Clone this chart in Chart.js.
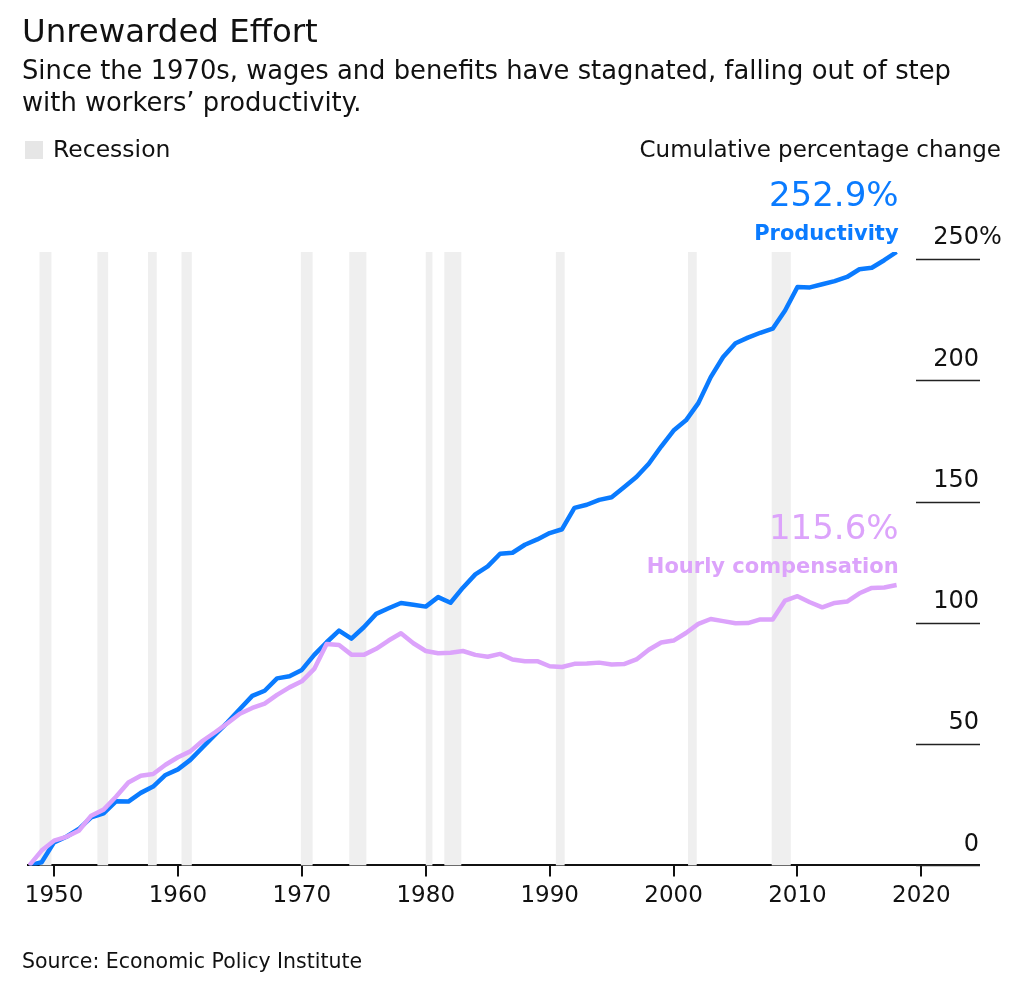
<!DOCTYPE html>
<html>
<head>
<meta charset="utf-8">
<script src="https://cdn.jsdelivr.net/npm/chart.js@4.4.1/dist/chart.umd.min.js"></script>
<style>
html, body { margin: 0; padding: 0; background: #fff; }
body { width: 1024px; height: 990px; position: relative; overflow: hidden;
       font-family: "DejaVu Sans", sans-serif; color: #111; }
#wrap { position: absolute; left: 0; top: 0; width: 1024px; height: 990px; }
.t { position: absolute; white-space: nowrap; }
#title { left: 22px; top: 11.5px; font-size: 32.4px; line-height: 38px; }
#sub { left: 22px; top: 55px; font-size: 25.8px; line-height: 31.7px; }
#legend { left: 25px; top: 135px; font-size: 23.5px; line-height: 28px; }
#legend .sw { display: inline-block; width: 18px; height: 18px; background: #e6e6e6;
              vertical-align: -2px; margin-right: 10px; }
#unit { right: 23px; top: 135px; font-size: 23px; line-height: 28px; }
#source { left: 22px; top: 948px; font-size: 20.5px; line-height: 26px; }
</style>
</head>
<body>
<div id="wrap"><canvas id="chart"></canvas></div>
<div class="t" id="title">Unrewarded Effort</div>
<div class="t" id="sub">Since the 1970s, wages and benefits have stagnated, falling out of step<br>with workers’ productivity.</div>
<div class="t" id="legend"><span class="sw"></span>Recession</div>
<div class="t" id="unit">Cumulative percentage change</div>
<div class="t" id="source">Source: Economic Policy Institute</div>

<script>
var years = [1948,1949,1950,1951,1952,1953,1954,1955,1956,1957,1958,1959,
	1960,1961,1962,1963,1964,1965,1966,1967,1968,1969,
	1970,1971,1972,1973,1974,1975,1976,1977,1978,1979,
	1980,1981,1982,1983,1984,1985,1986,1987,1988,1989,
	1990,1991,1992,1993,1994,1995,1996,1997,1998,1999,
	2000,2001,2002,2003,2004,2005,2006,2007,2008,2009,
	2010,2011,2012,2013,2014,2015,2016,2017,2018];

var productivity = [0,1.3,9.5,11.8,15.0,19.8,21.5,26.4,26.3,29.9,32.5,37.3,
	39.6,43.5,48.7,53.9,59.0,64.5,69.9,72.0,77.1,78.0,
	80.6,86.8,92.0,96.8,93.5,98.2,103.7,106.0,108.2,107.5,
	106.7,110.6,108.3,114.5,120.0,123.3,128.5,128.9,132.2,134.4,
	137.0,138.6,147.4,148.7,150.7,151.8,155.9,160.1,165.6,172.7,
	179.3,183.5,190.6,201.3,209.6,215.3,217.6,219.6,221.3,228.8,
	238.5,238.3,239.6,240.9,242.6,245.8,246.4,249.5,252.9];

var compensation = [0,6.1,10.2,11.8,14.3,20.5,23.0,28.3,34.2,37.0,37.7,41.5,
	44.6,47.0,51.4,54.9,58.6,62.5,64.9,66.7,70.3,73.4,
	75.9,81.0,91.3,90.9,86.9,86.8,89.3,92.7,95.7,91.6,
	88.4,87.5,87.7,88.4,86.8,86.0,87.2,84.9,84.2,84.2,
	82.1,81.8,83.1,83.2,83.6,82.8,83.0,84.9,88.9,91.9,
	92.7,95.8,99.6,101.6,100.7,99.8,99.9,101.4,101.4,109.2,
	111.0,108.5,106.4,108.2,108.8,112.2,114.4,114.6,115.6];

var seriesNames = ["Hourly compensation", "Productivity"];
var seriesColors = ["#dca3fb", "#0a7bff"];

// NBER recessions, as decimal years
var recessions = [[1948.83,1949.79],[1953.5,1954.37],[1957.58,1958.29],[1960.29,1961.12],
	[1969.92,1970.87],[1973.83,1975.21],[1980.0,1980.54],[1981.5,1982.87],
	[1990.5,1991.21],[2001.17,2001.87],[2007.92,2009.46]];

var xTicks = [1950,1960,1970,1980,1990,2000,2010,2020];
var yTicks = [0,50,100,150,200,250];

var FONT = "'DejaVu Sans', sans-serif";
Chart.defaults.font.family = FONT;
Chart.defaults.color = "#111";

function toPoints(values){
	return values.map(function(v, i){ return {x: years[i], y: v}; });
}

var recessionBands = {
	id: "recessionBands",
	beforeDatasetsDraw: function(chart){
		var ctx = chart.ctx, xs = chart.scales.x, area = chart.chartArea;
		ctx.save();
		ctx.fillStyle = "#efefef";
		recessions.forEach(function(r){
			var a = xs.getPixelForValue(r[0]), b = xs.getPixelForValue(r[1]);
			ctx.fillRect(a, area.top, b - a, area.bottom - area.top);
		});
		ctx.restore();
	}
};

var shortGrid = {
	id: "shortGrid",
	afterDraw: function(chart){
		var ctx = chart.ctx, ys = chart.scales.y, area = chart.chartArea;
		ctx.save();
		ctx.strokeStyle = "#222";
		ctx.lineWidth = 1.5;
		yTicks.forEach(function(v){
			var y = Math.round(ys.getPixelForValue(v)) + 0.5;
			ctx.beginPath();
			ctx.moveTo(area.right - 63, y);
			ctx.lineTo(area.right + 1, y);
			ctx.stroke();
		});
		// percent sign hangs after the top label
		ctx.font = "24px " + FONT;
		ctx.fillStyle = "#111";
		ctx.textAlign = "left";
		ctx.textBaseline = "middle";
		ctx.fillText("%", area.right, ys.getPixelForValue(yTicks[yTicks.length - 1]) - 21);
		ctx.restore();
	}
};

var endLabels = {
	id: "endLabels",
	afterDatasetsDraw: function(chart){
		var ctx = chart.ctx;
		ctx.save();
		ctx.textAlign = "right";
		ctx.textBaseline = "alphabetic";
		chart.data.datasets.forEach(function(ds, i){
			var meta = chart.getDatasetMeta(i);
			var pt = meta.data[meta.data.length - 1];
			var last = ds.data[ds.data.length - 1].y;
			ctx.fillStyle = ds.borderColor;
			ctx.font = "bold 21px " + FONT;
			ctx.fillText(ds.label, pt.x + 2, pt.y - 12);
			ctx.font = "34px " + FONT;
			ctx.fillText(last.toFixed(1) + "%", pt.x + 2, pt.y - 46);
		});
		ctx.restore();
	}
};

var ctx = document.getElementById("chart");
new Chart(ctx, {
	type: "line",
	data: {
		datasets: [
		{
			label: seriesNames[0],
			data: toPoints(compensation),
			borderColor: seriesColors[0],
			borderWidth: 4.5,
			pointRadius: 0,
			tension: 0,
			borderJoinStyle: "round",
			fill: false
		},
		{
			label: seriesNames[1],
			data: toPoints(productivity),
			borderColor: seriesColors[1],
			borderWidth: 4.5,
			pointRadius: 0,
			tension: 0,
			borderJoinStyle: "round",
			fill: false
		}
		]
	},
	options: {
		responsive: true,
		maintainAspectRatio: false,
		animation: false,
		layout: { padding: { left: 28, right: 37, top: 252, bottom: 74 } },
		plugins: {
			legend: { display: false },
			tooltip: { enabled: false }
		},
		scales: {
			x: {
				type: "linear",
				min: 1947.9,
				max: 2024.65,
				afterBuildTicks: function(s){ s.ticks = xTicks.map(function(v){ return {value: v}; }); },
				grid: { drawOnChartArea: false, drawTicks: true, tickLength: 11, color: "#111", lineWidth: 2 },
				border: { display: true, color: "#111", width: 2 },
				ticks: { font: { size: 23 }, color: "#111", padding: 6, maxRotation: 0,
					callback: function(v){ return String(v); } }
			},
			y: {
				position: "right",
				min: 0,
				max: 252.9,
				afterBuildTicks: function(s){ s.ticks = yTicks.map(function(v){ return {value: v}; }); },
				grid: { display: false },
				border: { display: false },
				ticks: { mirror: true, padding: 0, labelOffset: -21, font: { size: 24 }, color: "#111",
					callback: function(v){ return String(v); } }
			}
		}
	},
	plugins: [recessionBands, endLabels, shortGrid]
});
</script>
</body>
</html>
